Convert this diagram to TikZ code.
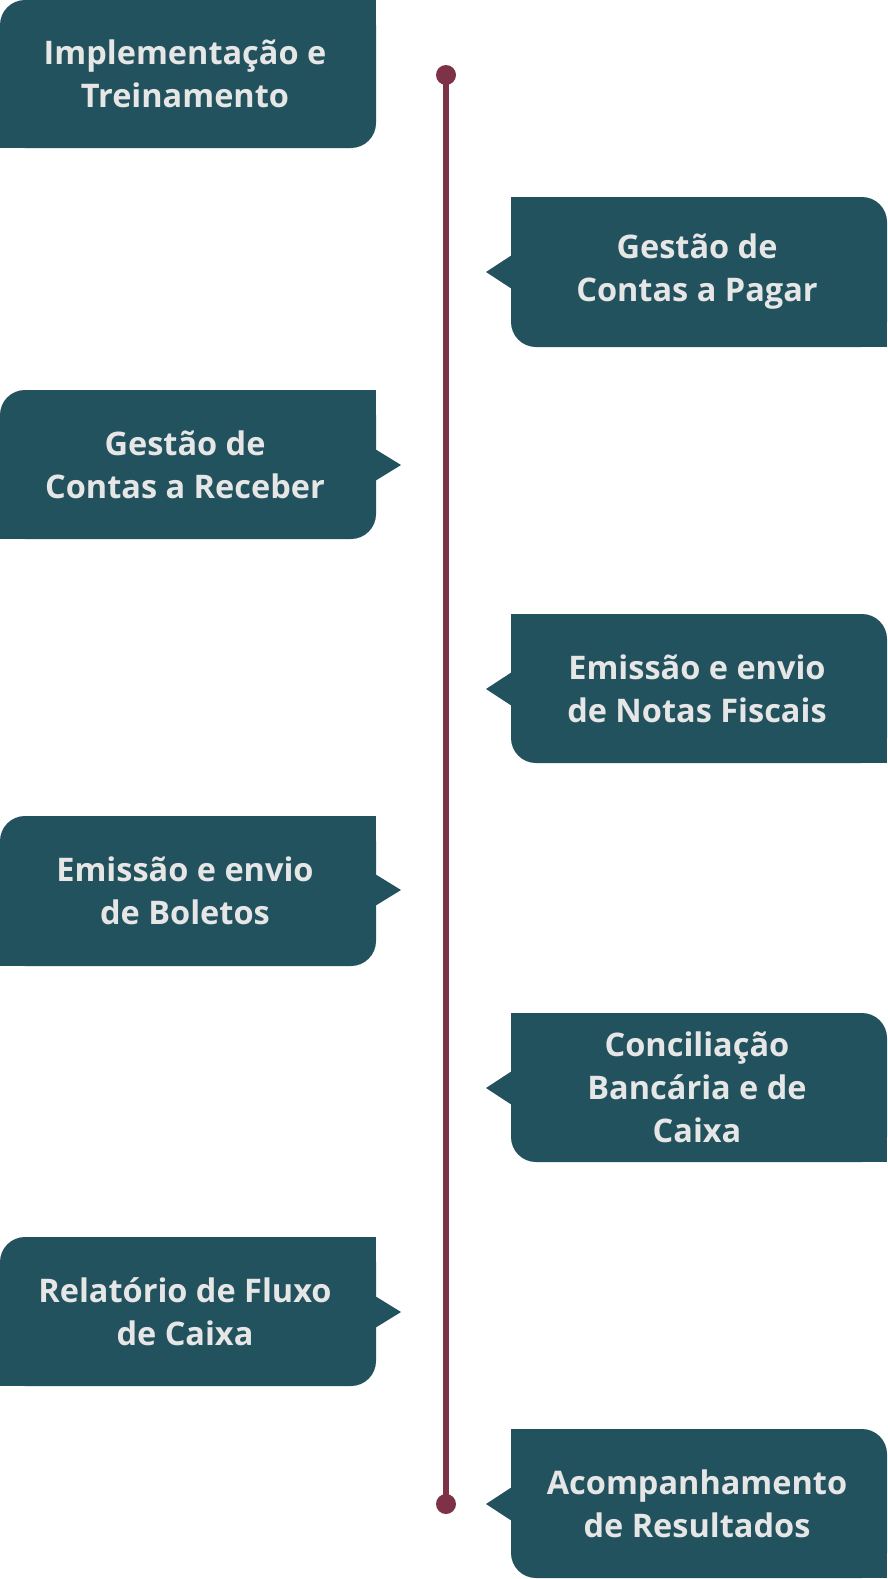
\documentclass[tikz,border=0pt]{standalone}
\usepackage{fontspec}
\setmainfont{Open Sans}
\definecolor{boxc}{HTML}{22525D}
\definecolor{linec}{HTML}{7E3248}
\definecolor{txtc}{HTML}{E6E6E6}
\begin{document}
\begin{tikzpicture}[x=1pt,y=-1pt,
  lbl/.style={text=txtc,align=center,font=\fontsize{32.5}{43}\selectfont\bfseries,inner sep=0pt},
  dotc/.style={circle,fill=linec,minimum size=20pt,inner sep=0pt}]
\useasboundingbox[fill=white] (0,0) rectangle (888,1579);
% left boxes: t,b,c
\foreach \t/\b/\c/\p in {0/148/74/0,390/539/465/1,816/966/890/1,1237/1386/1312/1}{
  \fill[boxc,rounded corners=25pt] (0,\t) rectangle (376,\b);
  \fill[boxc] (0,\b-26) rectangle (26,\b);
  \fill[boxc] (350,\t) rectangle (376,\t+26);
  \ifnum\p=1 \fill[boxc] (375,\c-16) -- (401,\c) -- (375,\c+16) -- cycle; \fi
}
% right boxes
\foreach \t/\b/\c in {197/347/272,614/763/689,1013/1162/1088,1429/1578/1504}{
  \fill[boxc,rounded corners=25pt] (511,\t) rectangle (887,\b);
  \fill[boxc] (511,\t) rectangle (537,\t+26);
  \fill[boxc] (861,\b-26) rectangle (887,\b);
  \fill[boxc] (512,\c-17) -- (486,\c) -- (512,\c+17) -- cycle;
}
\node[lbl] (b1) at (185,74) {Implementação e\\Treinamento};
\node[lbl] (b2) at (697,272) {Gestão de\\Contas a Pagar};
\node[lbl] (b3) at (185,464.5) {Gestão de\\Contas a Receber};
\node[lbl] (b4) at (697,688.5) {Emissão e envio\\de Notas Fiscais};
\node[lbl] (b5) at (185,891) {Emissão e envio\\de Boletos};
\node[lbl] (b6) at (697,1087.5) {Conciliação\\Bancária e de\\Caixa};
\node[lbl] (b7) at (185,1311.5) {Relatório de Fluxo\\de Caixa};
\node[lbl] (b8) at (697,1503.5) {Acompanhamento\\de Resultados};
\node[dotc] (top) at (446,75) {};
\node[dotc] (bot) at (446,1504) {};
\draw[linec,line width=6.5pt] (top.center) -- (bot.center);
\end{tikzpicture}
\end{document}
